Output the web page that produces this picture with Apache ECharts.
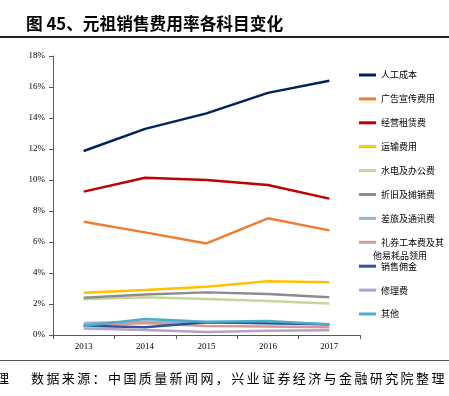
<!DOCTYPE html>
<html>
<head>
<meta charset="utf-8">
<script src="https://cdn.jsdelivr.net/npm/echarts@6/dist/echarts.min.js"></script>
<style>
  html, body { margin: 0; padding: 0; background: #fff; }
  #wrap { position: relative; width: 449px; height: 396px; overflow: hidden; }
  #chart { width: 449px; height: 396px; }
  .src {
    position: absolute; top: 370px; white-space: nowrap;
    font-family: "Noto Sans CJK SC", sans-serif; font-size: 13px; line-height: 16px;
    letter-spacing: 2.4px; color: #000;
  }
  .rule { position: absolute; left: 0; width: 449px; }
</style>
</head>
<body>
<div id="wrap">
  <div id="chart"></div>
  <div class="rule" style="top:36px;height:1.5px;background:#222"></div>
  <div class="rule" style="top:360px;height:1px;background:#555"></div>
  <div class="src" style="left:-4px">理</div>
  <div class="src" style="left:31px">数据来源：中国质量新闻网，兴业证券经济与金融研究院整理</div>
</div>
<script>
// 年份
let years = ['2013', '2014', '2015', '2016', '2017']
// 各科目费用率 (%)
let rengong = [11.87, 13.3, 14.3, 15.62, 16.4]
let guanggao = [7.31, 6.62, 5.91, 7.53, 6.75]
let zulin = [9.25, 10.15, 10.0, 9.68, 8.8]
let yunshu = [2.73, 2.9, 3.12, 3.46, 3.4]
let shuidian = [2.3, 2.43, 2.32, 2.19, 2.04]
let zhejiu = [2.41, 2.62, 2.75, 2.65, 2.43]
let chailv = [0.78, 0.86, 0.8, 0.78, 0.7]
let liquan = [0.6, 0.78, 0.58, 0.55, 0.5]
let yongjin = [0.6, 0.5, 0.83, 0.75, 0.7]
let xiuli = [0.42, 0.32, 0.2, 0.27, 0.3]
let qita = [0.58, 1.03, 0.85, 0.9, 0.68]
let yTicks = [0, 2, 4, 6, 8, 10, 12, 14, 16, 18]

let seriesList = [
  { name: '人工成本', data: rengong, color: '#002060' },
  { name: '广告宣传费用', data: guanggao, color: '#ED7D31' },
  { name: '经营租赁费', data: zulin, color: '#C00000' },
  { name: '运输费用', data: yunshu, color: '#FFC000' },
  { name: '水电及办公费', data: shuidian, color: '#C3D69B' },
  { name: '折旧及摊销费', data: zhejiu, color: '#8C8C8C' },
  { name: '差旅及通讯费', data: chailv, color: '#95B3D7' },
  { name: '礼券工本费及其他易耗品领用', data: liquan, color: '#DA9694' },
  { name: '销售佣金', data: yongjin, color: '#2F5597' },
  { name: '修理费', data: xiuli, color: '#B3A2C7' },
  { name: '其他', data: qita, color: '#4BACC6' }
]

let axisColor = '#595959'
let serif = '"Liberation Serif", "Times New Roman", serif'
let cjk = '"Noto Sans CJK SC", sans-serif'

let myChart = echarts.init(document.getElementById('chart'), null, { renderer: 'canvas' })
let option = {
  animation: false,
  backgroundColor: 'transparent',
  grid: { left: 53, right: 89, top: 56, bottom: 61, containLabel: false },
  xAxis: {
    type: 'category',
    data: years,
    boundaryGap: true,
    axisLine: { lineStyle: { color: axisColor, width: 1 } },
    axisTick: { show: true, length: 4, inside: false, lineStyle: { color: axisColor } },
    axisLabel: { color: '#000', fontFamily: serif, fontSize: 9, margin: 7 }
  },
  yAxis: {
    type: 'value',
    min: yTicks[0],
    max: yTicks[yTicks.length - 1],
    interval: 2,
    splitLine: { show: false },
    axisLine: { show: true, lineStyle: { color: axisColor, width: 1 } },
    axisTick: { show: true, length: 4, lineStyle: { color: axisColor } },
    axisLabel: { color: '#000', fontFamily: serif, fontSize: 9, margin: 8, formatter: '{value}%' }
  },
  legend: {
    orient: 'vertical',
    left: 354,
    top: 63,
    itemWidth: 17,
    itemHeight: 3,
    itemGap: 9.9,
    icon: 'rect',
    textStyle: { fontFamily: cjk, fontSize: 9, color: '#000', lineHeight: 14 },
    formatter: function(name) {
      if (name === '礼券工本费及其他易耗品领用') return '礼券工本费及其'
      return name
    },
    data: seriesList.map(function(s) { return s.name })
  },
  graphic: [
    {
      type: 'text', left: 26, top: 15,
      style: { text: '图 45、元祖销售费用率各科目变化', font: 'bold 16.7px ' + cjk, fill: '#000' }
    },
    {
      type: 'text', left: 373, top: 251,
      style: { text: '他易耗品领用', font: '9px ' + cjk, fill: '#000' }
    }
  ],
  series: seriesList.map(function(s) {
    return {
      name: s.name,
      type: 'line',
      data: s.data,
      symbol: 'none',
      smooth: false,
      color: s.color,
      lineStyle: { color: s.color, width: 2.5 },
      itemStyle: { color: s.color }
    }
  })
}
myChart.setOption(option)
</script>
</body>
</html>
